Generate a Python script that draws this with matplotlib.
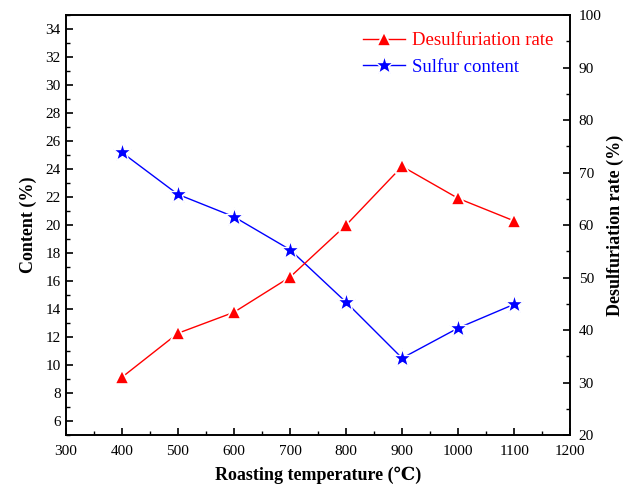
# Roasting temperature vs sulfur content / desulfurization rate
import numpy as np
import matplotlib.pyplot as plt

plt.rcParams['font.family'] = ['Liberation Serif', 'DejaVu Serif']
plt.rcParams['mathtext.fontset'] = 'stix'

# data
temperature = [400, 500, 600, 700, 800, 900, 1000, 1100]
sulfur_content = [25.2, 22.2, 20.6, 18.25, 14.5, 10.5, 12.65, 14.35]
desulf_rate = [31.0, 39.4, 43.4, 50.1, 60.0, 71.2, 65.1, 60.8]

fig = plt.figure(figsize=(6.26, 4.90), dpi=100)
ax = fig.add_axes([0.105, 0.112, 0.806, 0.857])
ax2 = ax.twinx()

# red curve on the right axis, blue curve on the left axis
l1, = ax2.plot(temperature, desulf_rate, color='red', lw=1.0, marker='^',
               ms=10.5, markerfacecolor='red', markeredgecolor='white',
               markeredgewidth=1.2, label='Desulfuriation rate')
l2, = ax.plot(temperature, sulfur_content, color='blue', lw=1.0, marker='*',
              ms=14, markerfacecolor='blue', markeredgecolor='white',
              markeredgewidth=1.0, label='Sulfur content')

ax.set_xlim(300, 1200)
ax.set_ylim(5, 35)
ax2.set_ylim(20, 100)

ax.set_xticks(np.arange(300, 1201, 100))
ax.set_xticks(np.arange(350, 1200, 100), minor=True)
ax.set_yticks(np.arange(6, 35, 2))
ax.set_yticks(np.arange(5, 36, 2), minor=True)
ax2.set_yticks(np.arange(20, 101, 10))
ax2.set_yticks(np.arange(25, 100, 10), minor=True)

ax.tick_params(axis='both', which='major', direction='in', length=5, width=1.2, labelsize=11)
ax.tick_params(axis='x', which='major', pad=7)
ax.tick_params(axis='both', which='minor', direction='in', length=3, width=1.0)
ax2.tick_params(axis='y', which='major', direction='in', length=5, width=1.2, labelsize=11, pad=6)
ax2.tick_params(axis='y', which='minor', direction='in', length=3, width=1.0)

for a in (ax, ax2):
    for s in a.spines.values():
        s.set_linewidth(1.2)

ax.set_xlabel('Roasting temperature (\u2103)', fontsize=13, fontweight='bold', labelpad=6)
ax.set_ylabel('Content (%)', fontsize=13, fontweight='bold', labelpad=6)
ax2.set_ylabel('Desulfuriation rate (%)', fontsize=13, fontweight='bold', labelpad=4)

leg = ax.legend(handles=[l1, l2], loc='upper right', frameon=False, fontsize=13.5,
                handlelength=2.2, handletextpad=0.4, borderaxespad=0.5,
                labelspacing=0.5)
for txt, ln in zip(leg.get_texts(), [l1, l2]):
    txt.set_color(ln.get_color())

fig.savefig('out.png', dpi=100)
